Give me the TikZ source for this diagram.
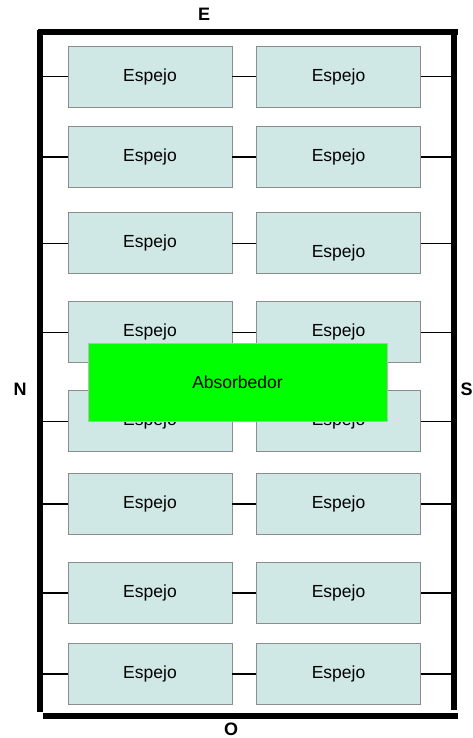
\documentclass[tikz,border=0pt]{standalone}
\usepackage{fontspec}
\setmainfont{Liberation Sans}
\definecolor{mirror}{HTML}{D0E8E5}
\definecolor{mirrorline}{HTML}{8C8C8C}
\definecolor{absgreen}{HTML}{00FF00}
\begin{document}
\begin{tikzpicture}[x=1pt,y=-1pt,
  mirrorbox/.style={draw=mirrorline, line width=0.8pt, fill=mirror, minimum width=164pt, minimum height=61pt, inner sep=0pt, font=\fontsize{17.5}{17.5}\selectfont},
  absbox/.style={draw=mirrorline!60, line width=0.4pt, fill=absgreen, minimum width=299pt, minimum height=78pt, inner sep=0pt, font=\fontsize{17.5}{17.5}\selectfont},
  frameline/.style={line width=6pt, line cap=butt},
  conthick/.style={line width=1.6pt},
  conthin/.style={line width=0.8pt},
  dirlabel/.style={font=\bfseries\fontsize{18}{18}\selectfont, inner sep=0pt}]
\useasboundingbox (0,0) rectangle (473,738);
% frame
\draw[frameline] (40,30) -- (40,712);
\draw[frameline] (38,32) -- (458,32);
\draw[frameline] (454,29) -- (454,710);
\draw[frameline] (43,716) -- (458,716);
% direction labels
\node[dirlabel] (lblE) at (204,14) {E};
\node[dirlabel] (lblN) at (20,389) {N};
\node[dirlabel] (lblS) at (466.5,389) {S};
\node[dirlabel] (lblO) at (231,729.5) {O};
% mirrors
\node[mirrorbox] (L1) at (150,76.5) {Espejo};
\node[mirrorbox] (R1) at (338.5,76.5) {Espejo};
\node[mirrorbox] (L2) at (150,157) {Espejo};
\node[mirrorbox] (R2) at (338.5,157) {Espejo};
\node[mirrorbox] (L3) at (150,243) {Espejo};
\node[mirrorbox] (R3) at (338.5,243) {\raisebox{-10pt}[\height][\depth]{Espejo}};
\node[mirrorbox] (L4) at (150,332) {Espejo};
\node[mirrorbox] (R4) at (338.5,332) {Espejo};
\node[mirrorbox] (L5) at (150,421) {Espejo};
\node[mirrorbox] (R5) at (338.5,421) {Espejo};
\node[mirrorbox] (L6) at (150,504) {Espejo};
\node[mirrorbox] (R6) at (338.5,504) {Espejo};
\node[mirrorbox] (L7) at (150,593) {Espejo};
\node[mirrorbox] (R7) at (338.5,593) {Espejo};
\node[mirrorbox] (L8) at (150,674) {Espejo};
\node[mirrorbox] (R8) at (338.5,674) {Espejo};
% frame end points of connectors
\foreach \i/\y in {1/76.5,2/157,3/243,4/332,5/421,6/504,7/593,8/674}{
  \coordinate (fl\i) at (40,\y);
  \coordinate (fr\i) at (452,\y);
}
% connectors
\foreach \i/\w in {1/conthick,2/conthick,3/conthin,4/conthin,5/conthin,6/conthick,7/conthick,8/conthick}{
  \draw[\w] (fl\i) -- (L\i);
  \draw[\w] (L\i) -- (R\i);
  \draw[\w] (R\i) -- (fr\i);
}
% absorber
\node[absbox] (abs) at (237.5,382) {Absorbedor};
\end{tikzpicture}
\end{document}
